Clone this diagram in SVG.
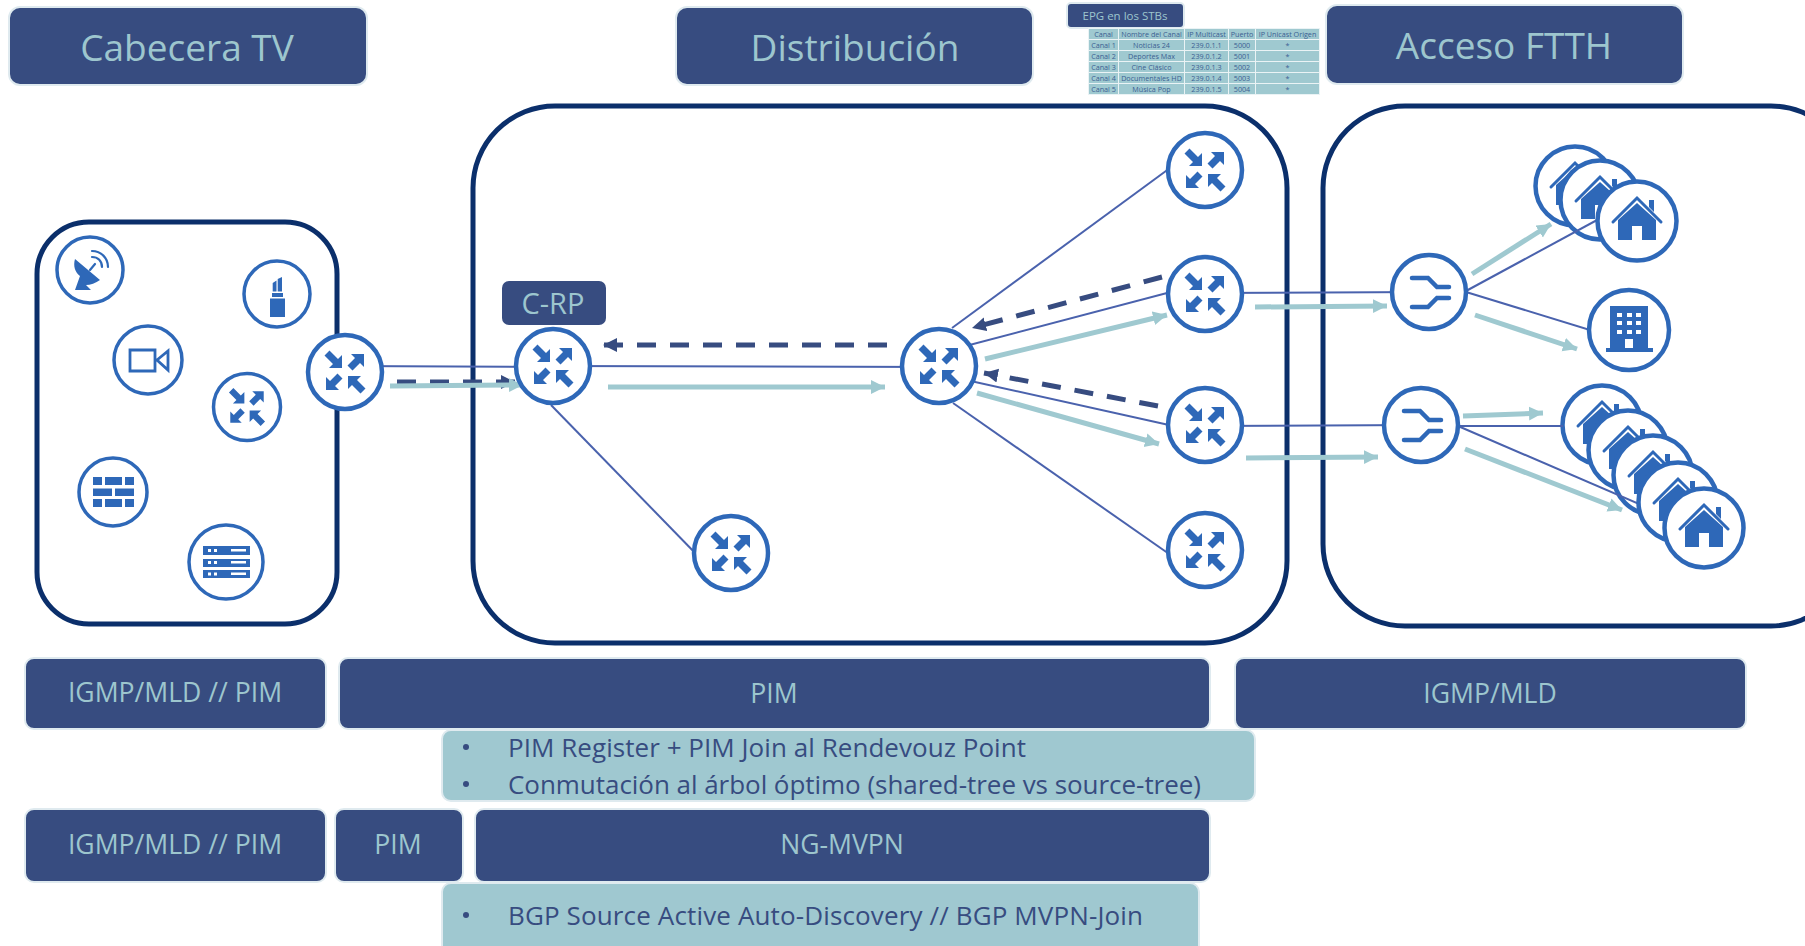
<svg xmlns="http://www.w3.org/2000/svg" width="1805" height="946" viewBox="0 0 1805 946">
<style>
text{font-family:"Open Sans","Noto Sans","Liberation Sans",sans-serif;text-anchor:middle}
.hdr{fill:#374c80;stroke:#dfeaef;stroke-width:2}
.ht{fill:#9dc6ce;font-size:37px}
.bt{fill:#9dc6ce;font-size:26.6px}
.lb{fill:#9fc8d0;stroke:#dfeaef;stroke-width:2}
.lt{fill:#374c80;font-size:26px;text-anchor:start}
.box{fill:#fff;stroke:#0b2f6b;stroke-width:5}
.n{fill:#fff;stroke:#2e68b8;stroke-width:4.5}
.n2{fill:#fff;stroke:#2e68b8;stroke-width:3.5}
.g{fill:#2e68b8}
.gs{fill:none;stroke:#2e68b8;stroke-linecap:round;stroke-linejoin:miter}
.l{stroke:#4a62ad;stroke-width:2;fill:none}
.t{stroke:#9fc9d0;stroke-width:5;fill:none;marker-end:url(#ta)}
.d{stroke:#374c80;stroke-width:5;fill:none;stroke-dasharray:19 14;marker-end:url(#da)}
.c{fill:#9fc9d0}
.ct{fill:#3b5f92;font-size:7.2px}
</style>
<defs>
<marker id="ta" markerUnits="userSpaceOnUse" markerWidth="18" markerHeight="18" refX="14" refY="7" orient="auto"><path d="M0,0L14,7L0,14z" fill="#9fc9d0"/></marker>
<marker id="da" markerUnits="userSpaceOnUse" markerWidth="18" markerHeight="18" refX="14" refY="7" orient="auto"><path d="M0,0L14,7L0,14z" fill="#374c80"/></marker>
<g id="arrows" class="g">
<path d="M19-18H6L10-14 2.500-6.500 7.500-1.500 15-9 19-5Z"/>
<path d="M19-18H6L10-14 2.500-6.500 7.500-1.500 15-9 19-5Z" transform="rotate(180)"/>
<path d="M-3-4V-17L-7-13-15.500-21.500-20.500-16.500-12-8-16-4Z"/>
<path d="M-3-4V-17L-7-13-15.500-21.500-20.500-16.500-12-8-16-4Z" transform="rotate(180)"/>
</g>
<g id="router"><circle class="n" r="37"/><use href="#arrows"/></g>
<g id="split"><circle class="n" r="37"/><path class="gs" stroke-width="4.5" d="M-17-14H-1L8-5H20M-17 15H-1L8 6H20"/></g>
<g id="house"><circle class="n" r="39.5"/><path class="gs" stroke-width="3" d="M-24 1L0-23 24 1"/><path class="g" d="M-19 19V-1L0-18 19-1V19H5V5H-5V19ZM12-21H17V-9L12-14Z"/></g>
</defs>

<g id="container-cabecera"><rect class="box" x="37" y="222" width="300" height="402" rx="52"/></g>
<g id="container-distribucion"><rect class="box" x="473" y="106" width="814" height="537" rx="82"/></g>
<g id="container-acceso"><rect class="box" x="1323" y="106" width="530" height="520" rx="82"/></g>

<g id="header-cabecera"><rect class="hdr" x="9" y="7" width="358" height="78" rx="11"/><text class="ht" x="187" y="61">Cabecera TV</text></g>
<g id="header-distribucion"><rect class="hdr" x="676" y="7" width="357" height="78" rx="11"/><text class="ht" x="855" y="61">Distribución</text></g>
<g id="header-acceso"><rect class="hdr" x="1326" y="5" width="357" height="79" rx="11"/><text class="ht" x="1504" y="59">Acceso FTTH</text></g>

<g id="epg-tag"><rect class="hdr" x="1067" y="3" width="117" height="25" rx="4" stroke-width="1"/><text x="1125" y="20" fill="#9dc6ce" font-size="11.5">EPG en los STBs</text></g>
<g id="epg-table">
<rect x="1088" y="28" width="232" height="67" fill="#eaf3f5"/>
<g class="c">
<rect x="1089" y="29" width="29" height="10"/><rect x="1119" y="29" width="65" height="10"/><rect x="1185" y="29" width="43" height="10"/><rect x="1229" y="29" width="26" height="10"/><rect x="1256" y="29" width="63" height="10"/>
<rect x="1089" y="40" width="29" height="10"/><rect x="1119" y="40" width="65" height="10"/><rect x="1185" y="40" width="43" height="10"/><rect x="1229" y="40" width="26" height="10"/><rect x="1256" y="40" width="63" height="10"/>
<rect x="1089" y="51" width="29" height="10"/><rect x="1119" y="51" width="65" height="10"/><rect x="1185" y="51" width="43" height="10"/><rect x="1229" y="51" width="26" height="10"/><rect x="1256" y="51" width="63" height="10"/>
<rect x="1089" y="62" width="29" height="10"/><rect x="1119" y="62" width="65" height="10"/><rect x="1185" y="62" width="43" height="10"/><rect x="1229" y="62" width="26" height="10"/><rect x="1256" y="62" width="63" height="10"/>
<rect x="1089" y="73" width="29" height="10"/><rect x="1119" y="73" width="65" height="10"/><rect x="1185" y="73" width="43" height="10"/><rect x="1229" y="73" width="26" height="10"/><rect x="1256" y="73" width="63" height="10"/>
<rect x="1089" y="84" width="29" height="10"/><rect x="1119" y="84" width="65" height="10"/><rect x="1185" y="84" width="43" height="10"/><rect x="1229" y="84" width="26" height="10"/><rect x="1256" y="84" width="63" height="10"/>
</g>
<g class="ct">
<text x="1103.500" y="37">Canal</text><text x="1151.500" y="37">Nombre del Canal</text><text x="1206.500" y="37">IP Multicast</text><text x="1242" y="37">Puerto</text><text x="1287.500" y="37">IP Unicast Origen</text>
<text x="1103.500" y="48">Canal 1</text><text x="1151.500" y="48">Noticias 24</text><text x="1206.500" y="48">239.0.1.1</text><text x="1242" y="48">5000</text><text x="1287.500" y="48">*</text>
<text x="1103.500" y="59">Canal 2</text><text x="1151.500" y="59">Deportes Max</text><text x="1206.500" y="59">239.0.1.2</text><text x="1242" y="59">5001</text><text x="1287.500" y="59">*</text>
<text x="1103.500" y="70">Canal 3</text><text x="1151.500" y="70">Cine Clásico</text><text x="1206.500" y="70">239.0.1.3</text><text x="1242" y="70">5002</text><text x="1287.500" y="70">*</text>
<text x="1103.500" y="81">Canal 4</text><text x="1151.500" y="81">Documentales HD</text><text x="1206.500" y="81">239.0.1.4</text><text x="1242" y="81">5003</text><text x="1287.500" y="81">*</text>
<text x="1103.500" y="92">Canal 5</text><text x="1151.500" y="92">Música Pop</text><text x="1206.500" y="92">239.0.1.5</text><text x="1242" y="92">5004</text><text x="1287.500" y="92">*</text>
</g>
</g>

<use id="house-a1" href="#house" x="1575" y="186"/>
<use id="house-a2" href="#house" x="1600" y="200"/>
<use id="house-b1" href="#house" x="1602" y="425"/>
<use id="house-b2" href="#house" x="1628" y="450"/>
<use id="house-b3" href="#house" x="1653" y="475"/>

<g id="connectors">
<path class="l" d="M345 366L553 367"/>
<path class="l" d="M553 366L939 367"/>
<path class="l" d="M551 405L700 558"/>
<path class="l" d="M952 328L1170 168"/>
<path class="l" d="M939 353L1205 283"/>
<path class="l" d="M939 374L1205 433"/>
<path class="l" d="M953 403L1172 556"/>
<path class="l" d="M1205 293L1429 292"/>
<path class="l" d="M1205 426L1421 425"/>
<path class="l" d="M1466 291L1610 213"/>
<path class="l" d="M1466 292L1629 342"/>
<path class="l" d="M1458 426L1563 426"/>
<path class="l" d="M1458 426L1660 513"/>
<path class="d" d="M397 382H515"/>
<path class="d" d="M887 345H603"/>
<path class="d" d="M1162 277L972 328"/>
<path class="d" d="M1158 406L984 373"/>
<path class="t" d="M390 386L523 385"/>
<path class="t" d="M608 387H885"/>
<path class="t" d="M985 359L1167 315"/>
<path class="t" d="M977 393L1159 444"/>
<path class="t" d="M1255 307L1387 306"/>
<path class="t" d="M1246 458L1378 457"/>
<path class="t" d="M1472 274L1551 224"/>
<path class="t" d="M1475 315L1577 349"/>
<path class="t" d="M1463 416L1543 413"/>
<path class="t" d="M1465 449L1622 510"/>
</g>

<g id="tag-crp"><rect x="502" y="281" width="104" height="44" rx="7" fill="#374c80"/><text x="553" y="314" fill="#9dc6ce" font-size="29">C-RP</text></g>

<g id="src-dish" transform="translate(90 270)"><circle class="n2" r="33"/><path class="g" d="M-15-11L10 10C6 13 0 15-4 15L1 20H-15L-10 6C-15 2-17-4-15-11Z"/><path class="gs" stroke-width="2.200" d="M0 0L5-6M2-19C11-19 18-12 18-3M2-13C8-13 12-9 12-3"/></g>
<g id="src-lipstick" transform="translate(277 294)"><circle class="n2" r="33"/><path class="g" d="M-7 4.500H8V23H-7ZM-5-1H6V3H-5ZM-4.300-2.500V-11L-0.500-13.500V-2.500ZM0.700-2.500V-15L5-17V-2.500Z"/></g>
<g id="src-camera" transform="translate(148 360)"><circle class="n2" r="34"/><path d="M-18-10H7V11H-18ZM9 0L20-9V10Z" fill="none" stroke="#2e68b8" stroke-width="2.800"/></g>
<g id="src-router" transform="translate(247 407)"><circle class="n2" r="33.500"/><use href="#arrows" transform="scale(.88)"/></g>
<g id="src-firewall" transform="translate(113 492)"><circle class="n2" r="34"/><path class="g" d="M-20-15H-11V-7H-20ZM-8-15H9V-7H-8ZM12-15H21V-7H12ZM-20-3.500H-1V4H-20ZM2-3.500H21V4H2ZM-20 7H-11V15H-20ZM-8 7H9V15H-8ZM12 7H21V15H12Z"/></g>
<g id="src-server" transform="translate(226 562)"><circle class="n2" r="37"/><path class="g" d="M-23-16H24V-7H-23ZM-23-3H24V5H-23ZM-23 8H24V16H-23Z"/><path fill="#fff" d="M-18-13H-15V-10H-18ZM-12-13H-9V-10H-12ZM5-13H20V-10.500H5ZM-18-1H-15V2H-18ZM-12-1H-9V2H-12ZM5-1H20V1.500H5ZM-18 10.500H-15V13.500H-18ZM-12 10.500H-9V13.500H-12ZM5 10.500H20V13H5Z"/></g>

<use id="router-src" href="#router" x="345" y="372"/>
<use id="router-crp" href="#router" x="553" y="366"/>
<use id="router-core" href="#router" x="939" y="366"/>
<use id="router-low" href="#router" x="731" y="553"/>
<use id="router-r1" href="#router" x="1205" y="170"/>
<use id="router-r2" href="#router" x="1205" y="294"/>
<use id="router-r3" href="#router" x="1205" y="425"/>
<use id="router-r4" href="#router" x="1205" y="550"/>
<use id="splitter-1" href="#split" x="1429" y="292"/>
<use id="splitter-2" href="#split" x="1421" y="425"/>

<use id="house-a3" href="#house" x="1637" y="221"/>
<g id="building" transform="translate(1629 330)"><circle class="n" r="40"/><path class="g" fill-rule="evenodd" d="M-19-24H19V18H24V22H-23V18H-19ZM-12-17V-13H-7V-17ZM-2-17V-13H3V-17ZM7-17V-13H12V-17ZM-12-9V-5H-7V-9ZM-2-9V-5H3V-9ZM7-9V-5H12V-9ZM-12 0V4H-7V0ZM-2 0V4H3V0ZM7 0V4H12V0ZM-4 9V18H4V9Z"/></g>
<use id="house-b4" href="#house" x="1678" y="502"/>
<use id="house-b5" href="#house" x="1704" y="528"/>

<g id="bar-igmp-1"><rect class="hdr" x="25" y="658" width="301" height="71" rx="9"/><text class="bt" x="175" y="702">IGMP/MLD // PIM</text></g>
<g id="bar-pim-1"><rect class="hdr" x="339" y="658" width="871" height="71" rx="9"/><text class="bt" x="774" y="703">PIM</text></g>
<g id="bar-igmp-2"><rect class="hdr" x="1235" y="658" width="511" height="71" rx="9"/><text class="bt" x="1490" y="703">IGMP/MLD</text></g>
<g id="note-1"><rect class="lb" x="442" y="730" width="813" height="71" rx="9"/><circle cx="466" cy="747" r="3" fill="#374c80"/><circle cx="466" cy="784" r="3" fill="#374c80"/><text class="lt" x="508" y="757" textLength="518">PIM Register + PIM Join al Rendevouz Point</text><text class="lt" x="508" y="794" textLength="693">Conmutación al árbol óptimo (shared-tree vs source-tree)</text></g>
<g id="bar-igmp-3"><rect class="hdr" x="25" y="809" width="301" height="73" rx="9"/><text class="bt" x="175" y="854">IGMP/MLD // PIM</text></g>
<g id="bar-pim-2"><rect class="hdr" x="335" y="809" width="128" height="73" rx="9"/><text class="bt" x="398" y="854">PIM</text></g>
<g id="bar-ngmvpn"><rect class="hdr" x="475" y="809" width="735" height="73" rx="9"/><text class="bt" x="842" y="854">NG-MVPN</text></g>
<g id="note-2"><rect class="lb" x="442" y="883" width="757" height="72" rx="9"/><circle cx="466" cy="915" r="3" fill="#374c80"/><text class="lt" x="508" y="925" textLength="635">BGP Source Active Auto-Discovery // BGP MVPN-Join</text></g>
</svg>
